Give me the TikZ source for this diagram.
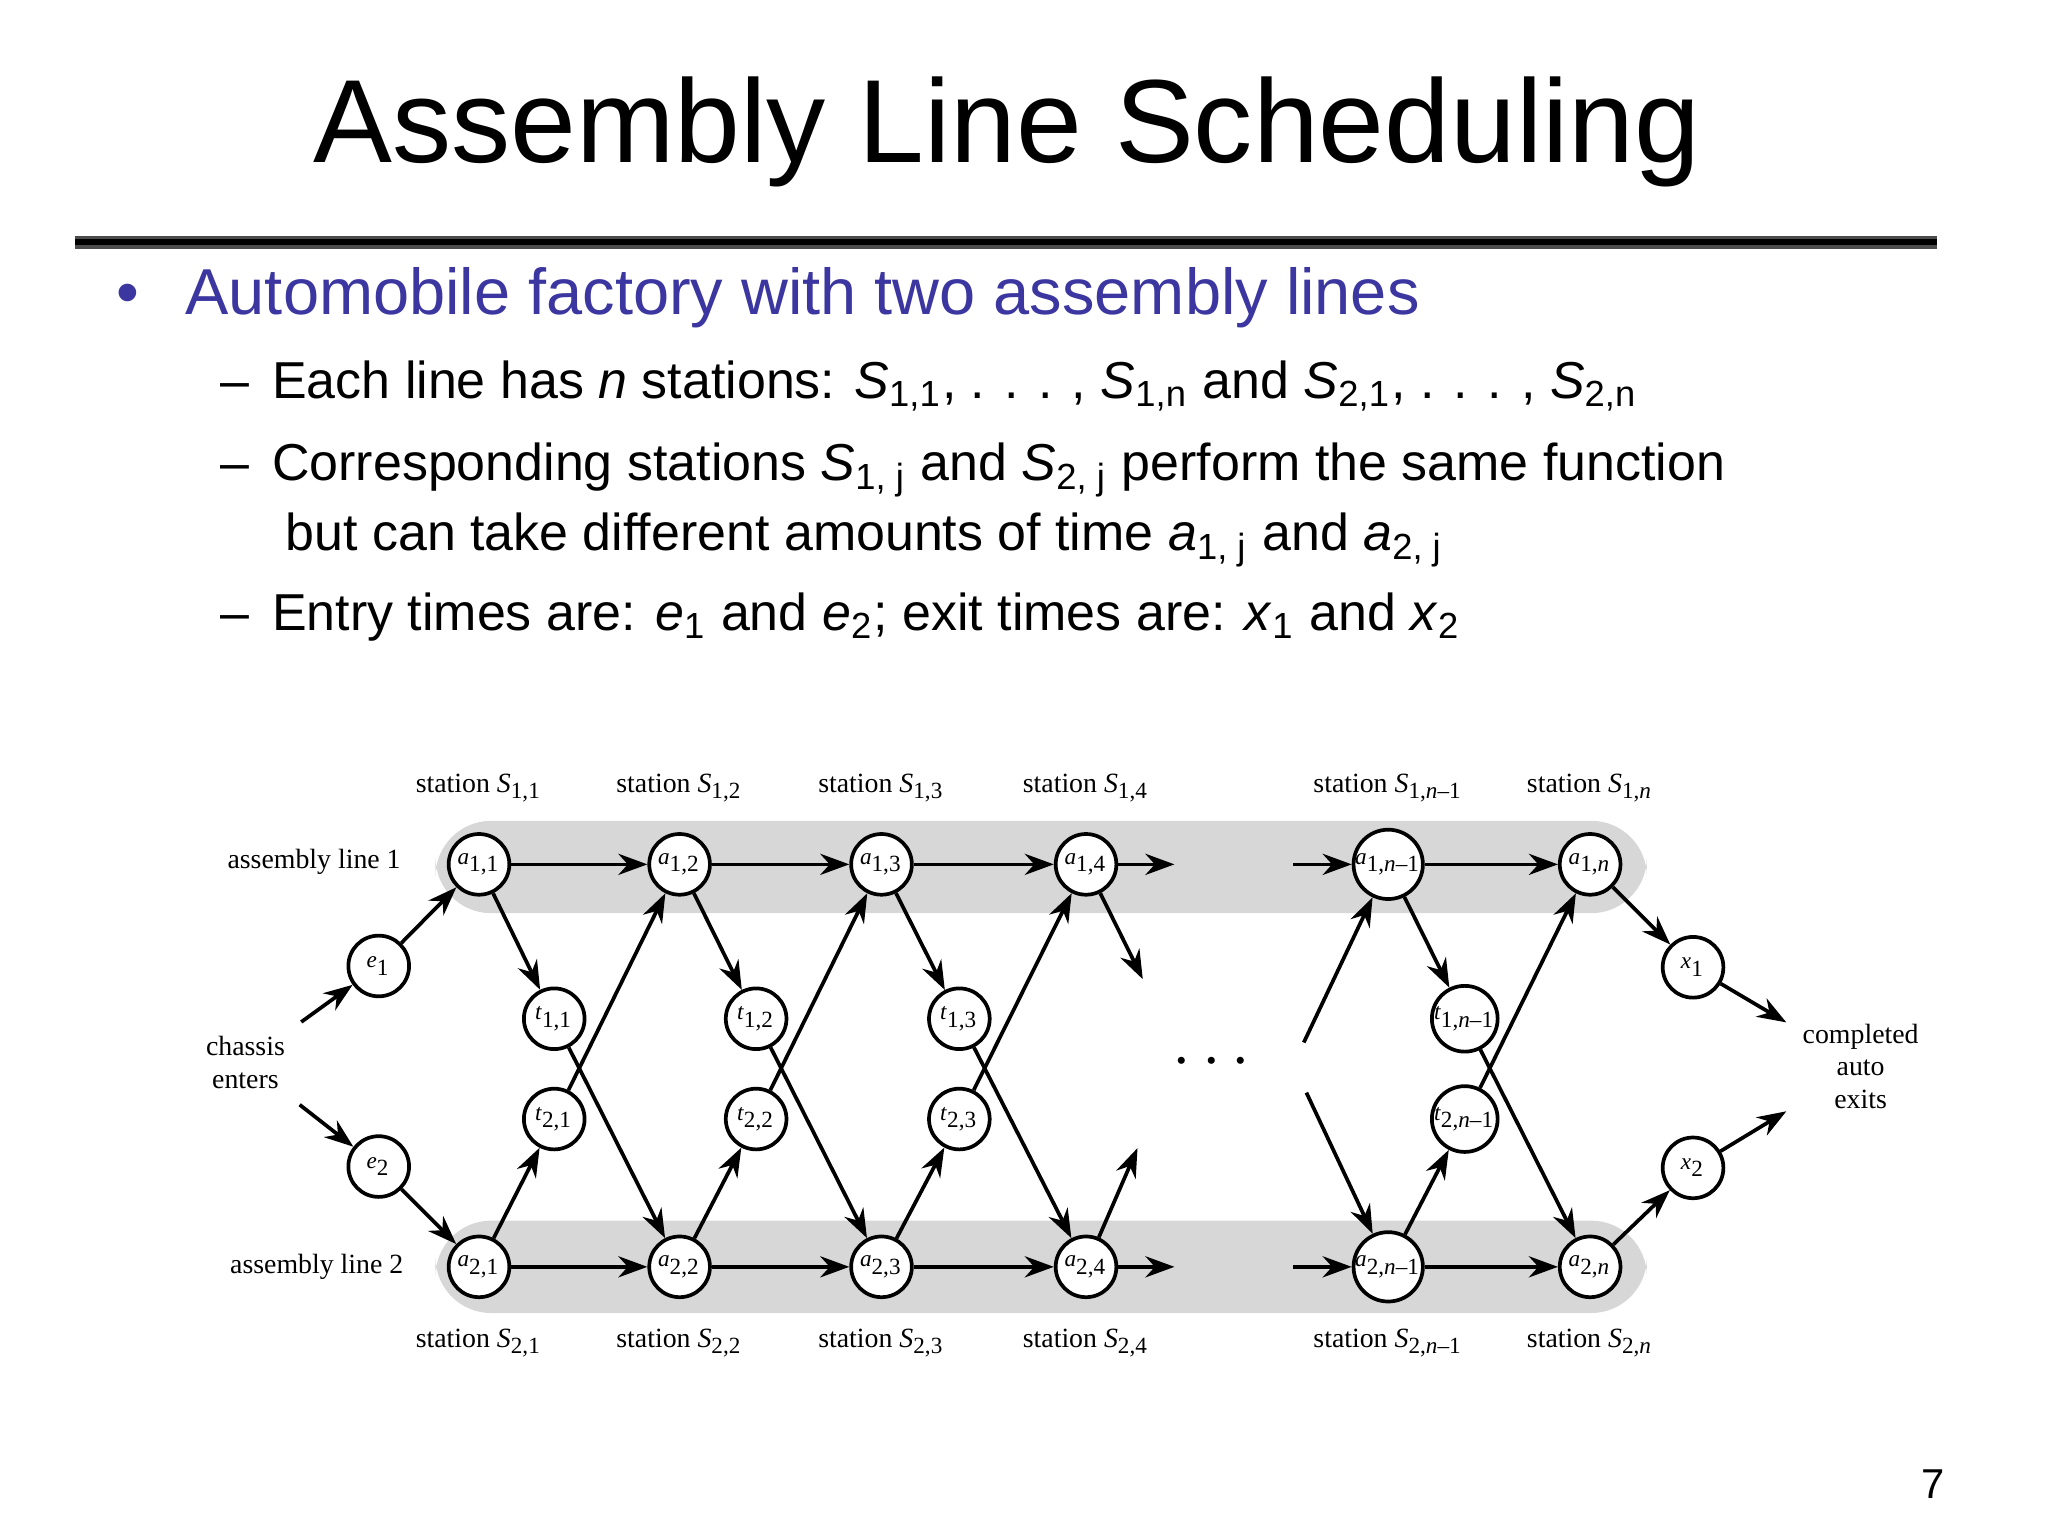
\documentclass[tikz,border=0pt]{standalone}
\usepackage{fontspec}
\setmainfont{Liberation Sans}
\newfontfamily\serifd{Liberation Serif}
\usetikzlibrary{arrows.meta}
\definecolor{bl}{RGB}{60,55,160}
\definecolor{band}{RGB}{215,215,215}
\begin{document}
\begin{tikzpicture}[x=0.1mm,y=-0.1mm,
 st/.style={circle,draw,thick,fill=white,minimum size=4.6mm,inner sep=0pt,font=\serifd\fontsize{5}{6}\selectfont},
 lab/.style={font=\serifd\fontsize{6}{7}\selectfont,align=center},
 ar/.style={-{Stealth[length=2.2mm,width=1.6mm]},thick},
 sub/.style={anchor=base west,font=\fontsize{11.2}{13}\selectfont}]
\useasboundingbox (0,0) rectangle (1552,1164);
\node[font=\fontsize{25.5}{30}\selectfont] (title) at (763,100) {Assembly Line Scheduling};
\fill[black!70] (57,179) rectangle (1468,189);
\fill[black] (57,181) rectangle (1468,186);
\node[anchor=base west,font=\fontsize{14}{17}\selectfont,text=bl] (b1) at (76,238) {\textbullet\hspace{3.5mm}Automobile factory with two assembly lines};
\node[sub] (s1) at (155,302) {–\hspace{1.7mm}Each line has \textit{n} stations: \textit{S}\textsubscript{1,1}, . . . , \textit{S}\textsubscript{1,n} and \textit{S}\textsubscript{2,1}, . . . , \textit{S}\textsubscript{2,n}};
\node[sub] (s2) at (155,364) {–\hspace{1.7mm}Corresponding stations \textit{S}\textsubscript{1, j} and \textit{S}\textsubscript{2, j} perform the same function};
\node[sub] (s3) at (204,417) {but can take different amounts of time \textit{a}\textsubscript{1, j} and \textit{a}\textsubscript{2, j}};
\node[sub] (s4) at (155,478) {–\hspace{1.7mm}Entry times are: \textit{e}\textsubscript{1} and \textit{e}\textsubscript{2}; exit times are: \textit{x}\textsubscript{1} and \textit{x}\textsubscript{2}};
\node[font=\fontsize{9}{11}\selectfont] (pg) at (1465,1125) {7};
% bands
\fill[band,rounded corners=12] (330,622) rectangle (1248,692);
\fill[band,rounded corners=12] (330,925) rectangle (1248,995);
% stations
\foreach \i/\x/\l in {1/363/{1,1},2/515/{1,2},3/668/{1,3},4/823/{1,4},5/1052/{1,\textit{n}–1},6/1205/{1,\textit{n}}}{
  \node[st] (a1\i) at (\x,655) {\textit{a}\textsubscript{\l}};
  \node[lab] (sa\i) at (\x,597) {station \textit{S}\textsubscript{\l}};
}
\foreach \i/\x/\l in {1/363/{2,1},2/515/{2,2},3/668/{2,3},4/823/{2,4},5/1052/{2,\textit{n}–1},6/1205/{2,\textit{n}}}{
  \node[st] (a2\i) at (\x,960) {\textit{a}\textsubscript{\l}};
  \node[lab] (sb\i) at (\x,1018) {station \textit{S}\textsubscript{\l}};
}
\foreach \i/\x/\l in {1/420/1,2/573/2,3/727/3,5/1110/{\textit{n}–1}}{
  \node[st] (t1\i) at (\x,772) {\textit{t}\textsubscript{1,\l}};
  \node[st] (t2\i) at (\x,848) {\textit{t}\textsubscript{2,\l}};
}
\node[st] (e1) at (287,732) {\textit{e}\textsubscript{1}};
\node[st] (e2) at (287,884) {\textit{e}\textsubscript{2}};
\node[st] (x1) at (1283,733) {\textit{x}\textsubscript{1}};
\node[st] (x2) at (1283,885) {\textit{x}\textsubscript{2}};
\node[lab] (ch) at (186,805) {chassis\\enters};
\node[lab] (co) at (1410,808) {completed\\auto\\exits};
\node[lab] (l1) at (238,653) {assembly line 1};
\node[lab] (l2) at (240,960) {assembly line 2};
\node[font=\fontsize{14}{14}\selectfont] (dots) at (918,805) {$\cdots$};
% arrows
\draw[ar] (ch) -- (e1); \draw[ar] (ch) -- (e2);
\draw[ar] (e1) -- (a11); \draw[ar] (e2) -- (a21);
\draw[ar] (a16) -- (x1); \draw[ar] (a26) -- (x2);
\draw[ar] (x1) -- (co); \draw[ar] (x2) -- (co);
\foreach \i/\j in {1/2,2/3,3/4}{
  \draw[ar] (a1\i) -- (a1\j); \draw[ar] (a2\i) -- (a2\j);
  \draw[ar] (a1\i) -- (t1\i); \draw[ar] (t1\i) -- (a2\j);
  \draw[ar] (a2\i) -- (t2\i); \draw[ar] (t2\i) -- (a1\j);
}
\draw[ar] (a15) -- (a16); \draw[ar] (a25) -- (a26);
\draw[ar] (a15) -- (t15); \draw[ar] (t15) -- (a26);
\draw[ar] (a25) -- (t25); \draw[ar] (t25) -- (a16);
\coordinate (o1) at (890,655); \coordinate (o2) at (890,960);
\coordinate (d1) at (866,742); \coordinate (d2) at (862,870);
\coordinate (i1) at (980,655); \coordinate (i2) at (980,960);
\coordinate (j1) at (988,790); \coordinate (j2) at (990,828);
\draw[ar] (a14) -- (o1); \draw[ar] (a24) -- (o2);
\draw[ar] (a14) -- (d1); \draw[ar] (a24) -- (d2);
\draw[ar] (i1) -- (a15); \draw[ar] (i2) -- (a25);
\draw[ar] (j1) -- (a15); \draw[ar] (j2) -- (a25);
\end{tikzpicture}
\end{document}
